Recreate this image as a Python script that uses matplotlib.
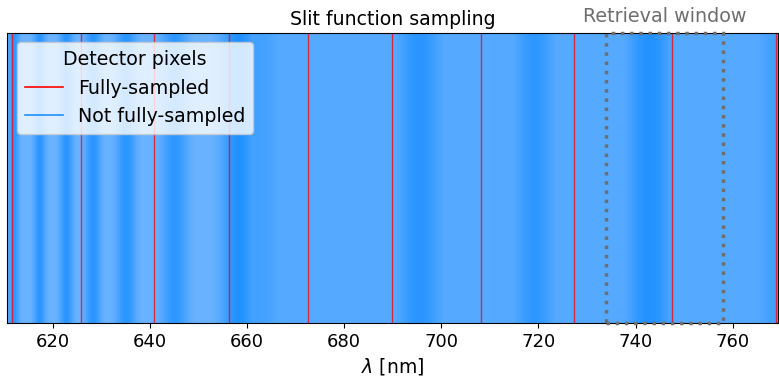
import numpy as np
import matplotlib
matplotlib.use("Agg")
import matplotlib.pyplot as plt
from matplotlib.colors import LinearSegmentedColormap
from matplotlib.lines import Line2D
from matplotlib.patches import Rectangle

# fully-sampled detector pixel edges (nm)
red_pixels = [611.6, 625.8, 640.9, 656.3, 672.6, 689.9, 708.1, 727.3, 747.5, 769.0]

# dense clusters of not-fully-sampled pixels (centre nm, width nm, strength)
band_center = [612.1, 617.4, 622.9, 628.4, 635.2, 645.2, 658.4, 662.5, 695.6, 719.3, 743.0, 768.5]
band_width = [0.8, 0.9, 1.0, 1.2, 1.5, 2.0, 2.6, 4.0, 3.6, 3.2, 3.6, 3.0]
band_strength = [0.8, 0.85, 0.85, 0.85, 0.85, 0.8, 0.95, 0.55, 0.85, 0.8, 0.95, 0.55]

window = (734.0, 758.0)
xlim = (610.7, 769.4)

fig = plt.figure(figsize=(7.79, 3.83), dpi=100)
ax = fig.add_axes([0.0096, 0.157, 0.9895, 0.757])

# background shading built from the cluster list
xg = np.linspace(xlim[0], xlim[1], 2000)
dens = np.full_like(xg, 0.32)
dens[xg < 660] = 0.08
for c, w, s in zip(band_center, band_width, band_strength):
    dens = np.maximum(dens, s * np.exp(-0.5 * ((xg - c) / w) ** 2))
cmap = LinearSegmentedColormap.from_list("px", ["#70b5ff", "#1e90ff"])
ax.imshow(dens[None, :], aspect="auto", cmap=cmap, vmin=0, vmax=1,
          extent=[xlim[0], xlim[1], 0, 1], interpolation="bilinear", zorder=0)

for p in red_pixels:
    ax.axvline(p, color="red", lw=1, alpha=0.75, zorder=1)

ax.add_patch(Rectangle((window[0], 0), window[1] - window[0], 1, fill=False,
                       ls=":", lw=2.5, ec="#6e6e6e", zorder=3, clip_on=False))
ax.text(np.mean(window), 1.025, "Retrieval window", color="#6e6e6e",
        ha="center", va="bottom", fontsize=13.8)

ax.set_xlim(*xlim)
ax.set_ylim(0, 1)
ax.set_yticks([])
ax.tick_params(axis="x", labelsize=13)
ax.set_xlabel(r"$\lambda$ [nm]", fontsize=13.5)
ax.set_title("Slit function sampling", fontsize=13.6, pad=6)

handles = [Line2D([], [], color="red", lw=1.2), Line2D([], [], color="dodgerblue", lw=1.2)]
ax.legend(handles, ["Fully-sampled", "Not fully-sampled"], title="Detector pixels",
          loc="upper left", fontsize=13.7, title_fontsize=13.7, framealpha=0.8)

fig.savefig("out.png", dpi=100)
